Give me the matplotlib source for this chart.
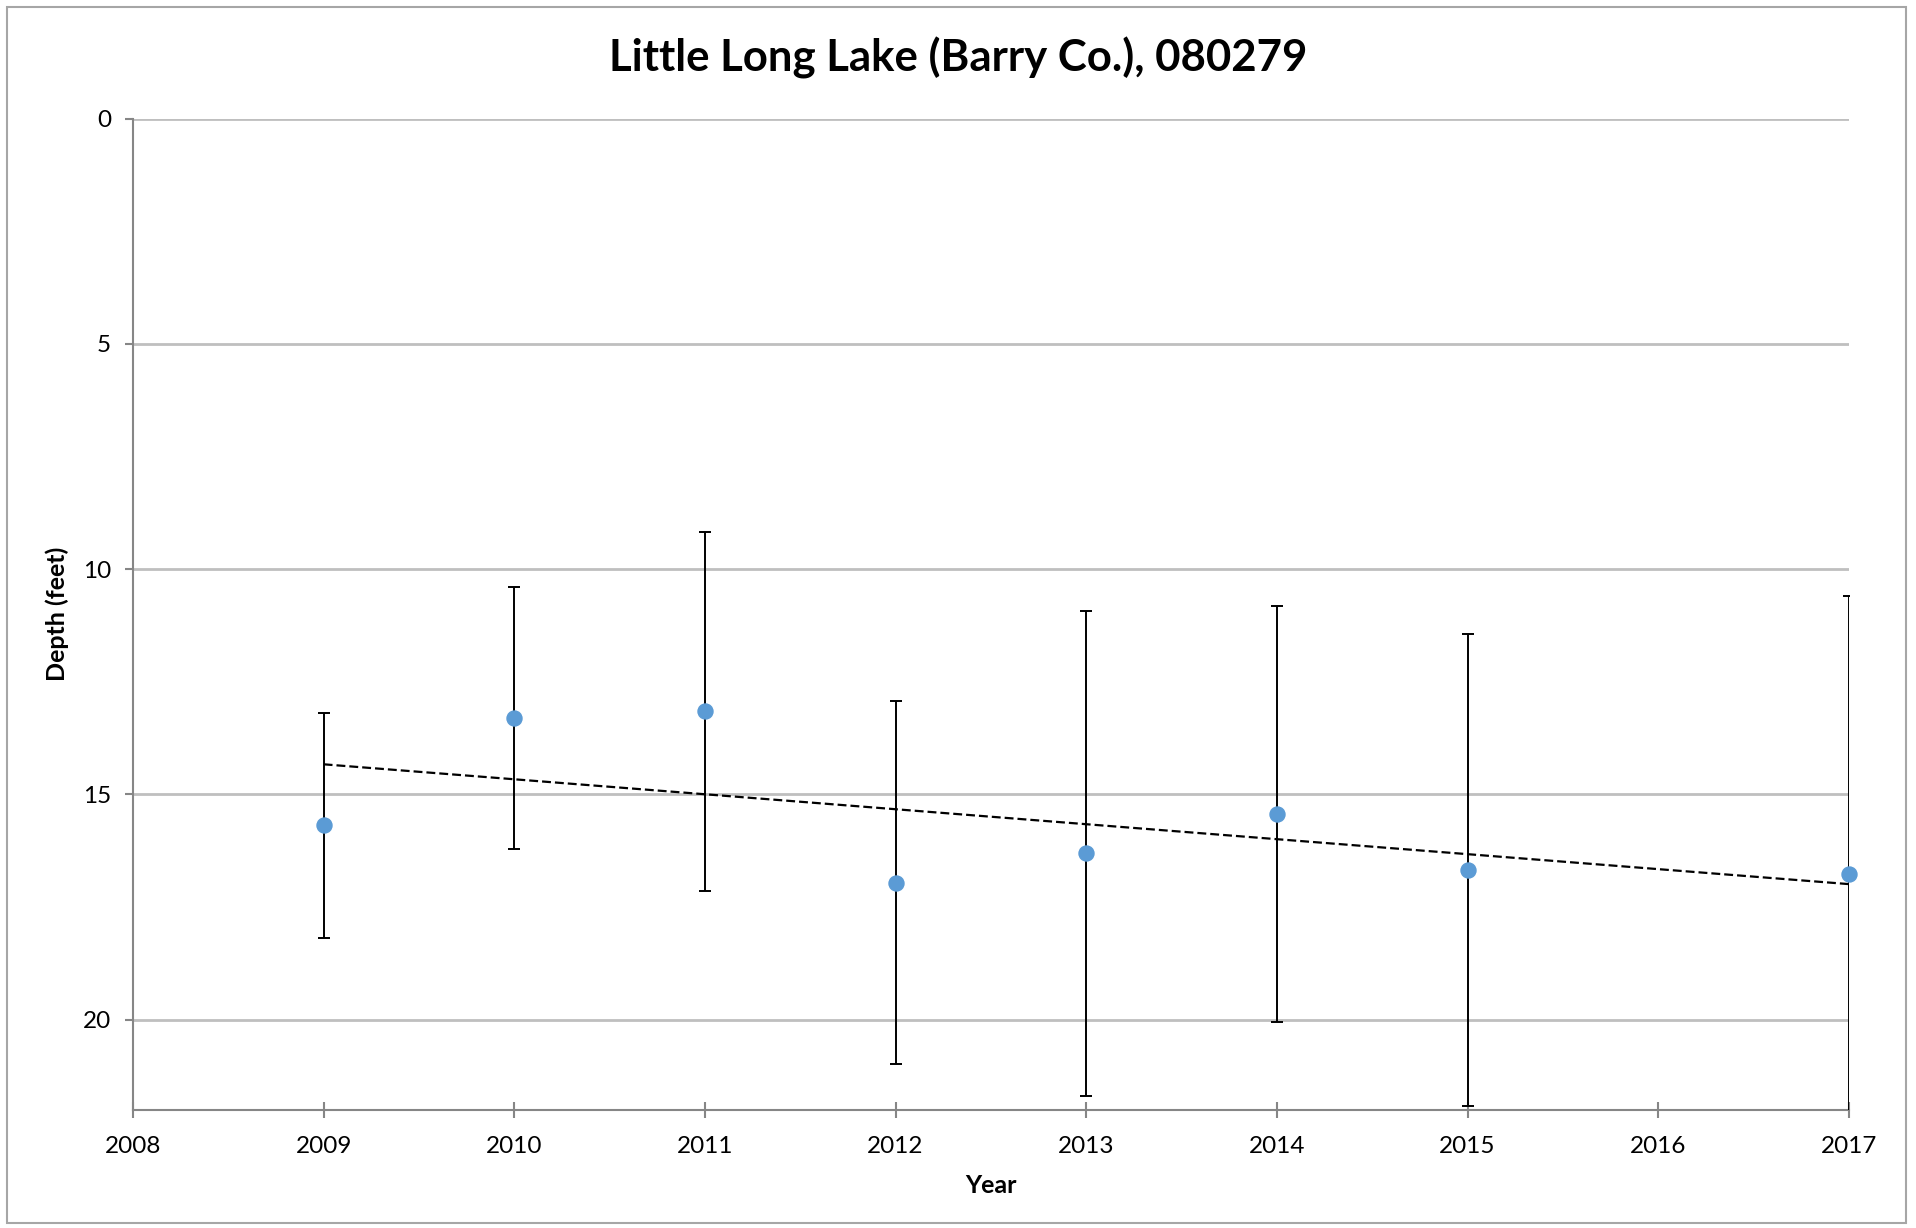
import numpy as np
import matplotlib
matplotlib.use('Agg')
import matplotlib.pyplot as plt
from matplotlib.patches import Rectangle

plt.rcParams['font.family'] = ['Lato', 'DejaVu Sans']

# datos
years = [2009, 2010, 2011, 2012, 2013, 2014, 2015, 2017]
depth = [15.69, 13.30, 13.16, 16.96, 16.31, 15.44, 16.69, 16.77]
err = [2.50, 2.91, 3.98, 4.02, 5.38, 4.61, 5.24, 6.16]
year_ticks = list(range(2008, 2018))
depth_ticks = [0, 5, 10, 15, 20]

fig = plt.figure(figsize=(19.16, 12.28), dpi=100)
ax = fig.add_axes([0.0694, 0.0964, 0.8956, 0.8071])

# borde del area del grafico
fig.patches.append(Rectangle((0.0037, 0.004), 0.9912, 0.990, transform=fig.transFigure,
                             fill=False, edgecolor='#A6A6A6', linewidth=1.5))

ax.errorbar(years, depth, yerr=err, fmt='none', ecolor='black', elinewidth=1.4,
            capsize=4.3, capthick=1.4, zorder=3)

# linea de tendencia lineal
coef = np.polyfit(years, depth, 1)
xt = np.array([min(years), max(years)])
ax.plot(xt, np.polyval(coef, xt), color='black', linestyle=(0, (4, 1.8)), linewidth=1.6, zorder=4)

ax.plot(years, depth, 'o', color='#5B9BD5', markersize=10.8, zorder=5, clip_on=False)

ax.set_xlim(2008, 2017)
ax.set_ylim(22, 0)
ax.set_xticks(year_ticks)
ax.set_yticks(depth_ticks)
ax.yaxis.grid(True, color='#BFBFBF', linewidth=2)
ax.set_axisbelow(True)

for s in ['top', 'right']:
    ax.spines[s].set_visible(False)
for s in ['left', 'bottom']:
    ax.spines[s].set_color('#868686')
    ax.spines[s].set_linewidth(1.5)

ax.tick_params(axis='x', direction='inout', length=11.5, width=1.5, color='#868686',
               labelsize=17.5, pad=13)
ax.tick_params(axis='y', direction='out', length=5.8, width=1.5, color='#868686',
               labelsize=17.5, pad=10)

fig.text(0.5, 0.953, 'Little Long Lake (Barry Co.), 080279', fontsize=31.5,
         fontweight='bold', ha='center', va='center')
ax.set_xlabel('Year', fontsize=18, fontweight='bold', labelpad=12.5)
ax.set_ylabel('Depth (feet)', fontsize=18, fontweight='bold', labelpad=10)

fig.savefig('out.png', dpi=100)
